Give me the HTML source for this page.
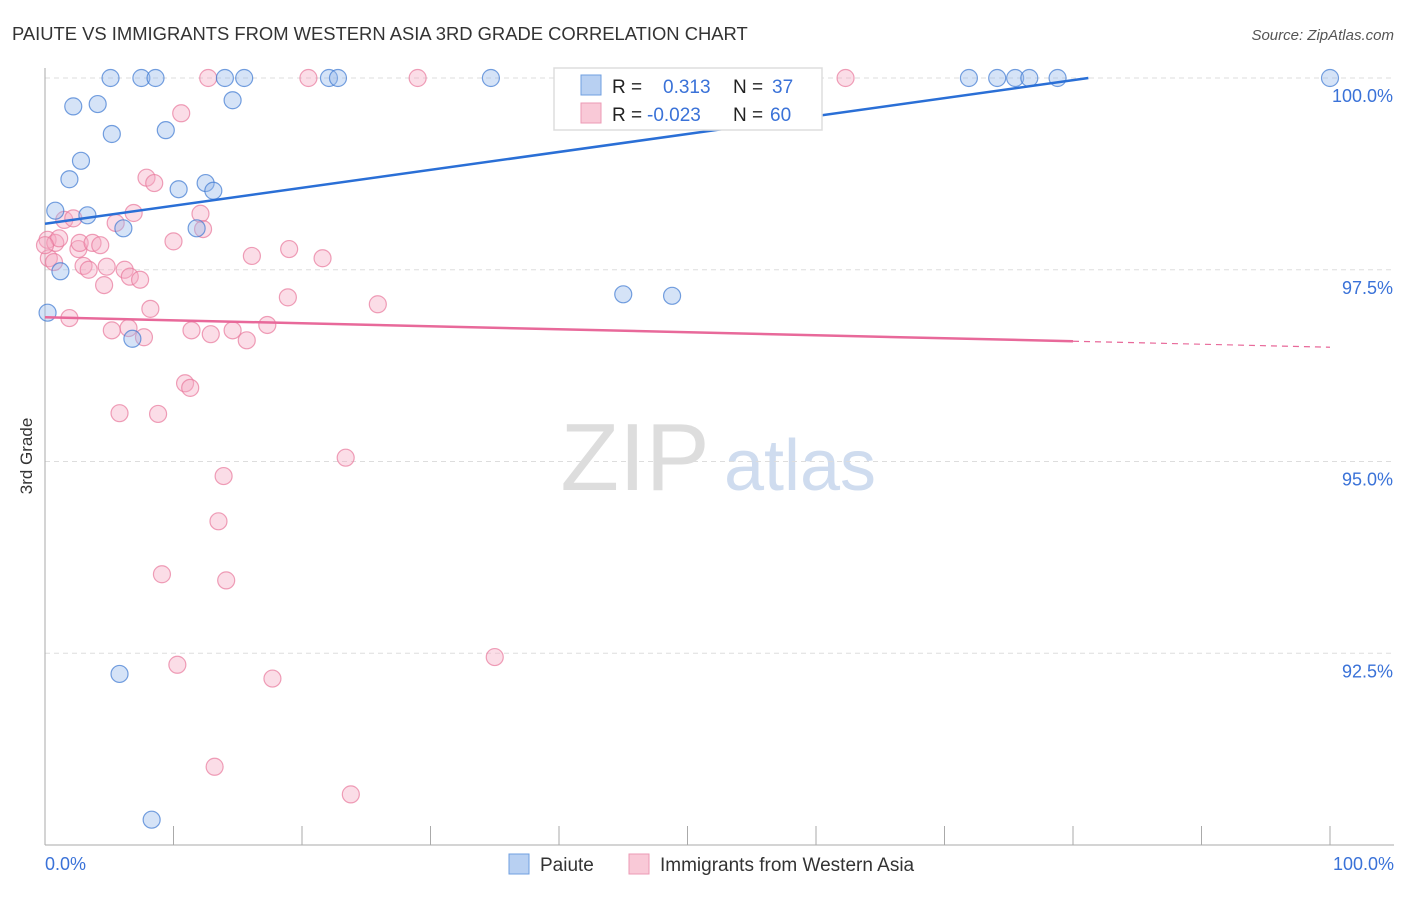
<!DOCTYPE html>
<html><head><meta charset="utf-8">
<style>
body{margin:0;background:#fff;font-family:"Liberation Sans",sans-serif;}
svg text{font-family:"Liberation Sans",sans-serif;}
</style></head>
<body>
<svg id="chart" width="1406" height="892" viewBox="0 0 1406 892">
<text x="12" y="40" font-size="18.4" fill="#333">PAIUTE VS IMMIGRANTS FROM WESTERN ASIA 3RD GRADE CORRELATION CHART</text>
<text x="1394" y="40" font-size="15" fill="#555" font-style="italic" text-anchor="end">Source: ZipAtlas.com</text>
<text x="32" y="456" font-size="17" fill="#333" text-anchor="middle" transform="rotate(-90 32 456)">3rd Grade</text>
<g>
<text x="635" y="490" font-size="96" fill="#ddd" font-family="Liberation Serif" text-anchor="middle">ZIP</text>
<text x="800" y="490" font-size="72" fill="#cfdcef" text-anchor="middle">atlas</text>
</g>
<g id="grid"></g>
<g id="axes"></g>
<g id="points"></g>
<g id="trends"></g>
<g>
<rect x="554" y="68" width="268" height="62" fill="#fff" stroke="#ddd" stroke-width="1.5"/>
<rect x="581" y="75" width="20" height="20" fill="#b8d0f2" stroke="#6f9fe0"/>
<text x="612" y="93" font-size="19" fill="#222">R =</text>
<text x="663" y="93" font-size="19" fill="#3a72d8">0.313</text>
<text x="733" y="93" font-size="19" fill="#222">N =</text>
<text x="772" y="93" font-size="19" fill="#3a72d8">37</text>
<rect x="581" y="103" width="20" height="20" fill="#f9c9d7" stroke="#ec9ab4"/>
<text x="612" y="121" font-size="19" fill="#222">R =</text>
<text x="647" y="121" font-size="19" fill="#3a72d8">-0.023</text>
<text x="733" y="121" font-size="19" fill="#222">N =</text>
<text x="770" y="121" font-size="19" fill="#3a72d8">60</text>
</g>
<g>
<rect x="509" y="854" width="20" height="20" fill="#b8d0f2" stroke="#6f9fe0"/>
<text x="540" y="871" font-size="19" fill="#333">Paiute</text>
<rect x="629" y="854" width="20" height="20" fill="#f9c9d7" stroke="#ec9ab4"/>
<text x="660" y="871" font-size="19" fill="#333">Immigrants from Western Asia</text>
</g>
</svg>
<script>
const yTicks=[100,97.5,95,92.5];
const yTickLabels=["100.0%","97.5%","95.0%","92.5%"];
const xTickLabels=["0.0%","100.0%"];
const blueX=[5.1,7.5,8.6,14.0,15.5,22.1,22.8,34.7,45.5,45.8,71.9,74.1,75.5,76.6,78.8,100,2.2,4.1,14.6,5.2,9.4,2.8,1.9,10.4,12.5,13.1,0.8,3.3,6.1,11.8,1.2,45.0,48.8,0.2,6.8,5.8,8.3];
const blueY=[100,100,100,100,100,100,100,100,100,100,100,100,100,100,100,100,99.63,99.66,99.71,99.27,99.32,98.92,98.68,98.55,98.63,98.53,98.27,98.21,98.04,98.04,97.48,97.18,97.16,96.94,96.60,92.23,90.33];
const pinkX=[12.7,20.5,29.0,62.3,10.6,7.9,8.5,1.5,2.2,12.1,6.9,5.5,12.3,0.2,0.8,1.1,2.6,2.7,3.7,4.3,0.3,0.7,3.0,3.4,4.8,6.2,6.6,7.4,4.6,10.0,16.1,19.0,21.6,18.9,25.9,8.2,1.9,5.2,6.5,7.7,11.4,12.9,14.6,15.7,17.3,10.9,11.3,5.8,8.8,13.9,23.4,13.5,9.1,14.1,10.3,17.7,35.0,13.2,23.8,0];
const pinkY=[100,100,100,100,99.54,98.70,98.63,98.15,98.17,98.23,98.24,98.11,98.03,97.89,97.85,97.91,97.77,97.85,97.85,97.82,97.65,97.60,97.55,97.50,97.54,97.50,97.41,97.37,97.30,97.87,97.68,97.77,97.65,97.14,97.05,96.99,96.87,96.71,96.74,96.62,96.71,96.66,96.71,96.58,96.78,96.02,95.96,95.63,95.62,94.81,95.05,94.22,93.53,93.45,92.35,92.17,92.45,91.02,90.66,97.82];
const blueTrend=[98.10,100.44];
const pinkTrend=[96.88,96.49];
const sx=v=>45+v*12.85;
const sy=v=>78+(100-v)*76.7;
const NS="http://www.w3.org/2000/svg";
function mk(tag,attrs,parent){const e=document.createElementNS(NS,tag);for(const k in attrs)e.setAttribute(k,attrs[k]);parent.appendChild(e);return e;}
const grid=document.getElementById('grid'),axes=document.getElementById('axes'),pts=document.getElementById('points'),tr=document.getElementById('trends');
yTicks.forEach((t,i)=>{
  const l=mk('line',{x1:45,x2:1394,y1:sy(t),y2:sy(t),stroke:'#ddd','stroke-dasharray':'5,4'},grid);
  
  
  const tx=mk('text',{x:1393,y:sy(t)+24,'font-size':18,fill:'#3a72d8','text-anchor':'end'},axes);
  tx.textContent=yTickLabels[i];
  
  
});
const ax=mk('line',{x1:45,x2:45,y1:68,y2:845,stroke:'#aaa'},axes);


const bx=mk('line',{x1:45,x2:1394,y1:845,y2:845,stroke:'#aaa'},axes);


for(let i=0;i<=10;i++){const t=mk('line',{x1:sx(i*10),x2:sx(i*10),y1:826,y2:845,stroke:'#aaa'},axes);

}
[[0,'start',45],[100,'end',1394]].forEach((a,i)=>{const t=mk('text',{x:a[2],y:870,'font-size':18,fill:'#3a72d8','text-anchor':a[1]},axes);t.textContent=xTickLabels[i];

});
function dots(X,Y,fill,stroke,name){X.forEach((x,i)=>{const c=mk('circle',{cx:sx(x),cy:sy(Y[i]),r:8.5,fill:fill,stroke:stroke,'stroke-width':1.2},pts);

});}
dots(pinkX,pinkY,'rgba(246,170,195,0.4)','rgba(232,120,155,0.7)','western-asia-point');
dots(blueX,blueY,'rgba(150,185,235,0.4)','rgba(60,120,210,0.7)','paiute-point');
const bxEnd=(100-blueTrend[0])/(blueTrend[1]-blueTrend[0])*100;
const b=mk('line',{x1:sx(0),y1:sy(blueTrend[0]),x2:sx(bxEnd),y2:sy(100),stroke:'#2a6fd6','stroke-width':2.5},tr);


const pv=x=>pinkTrend[0]+(pinkTrend[1]-pinkTrend[0])*x/100;
const p=mk('line',{x1:sx(0),y1:sy(pv(0)),x2:sx(80),y2:sy(pv(80)),stroke:'#e8699a','stroke-width':2.5},tr);


const pd=mk('line',{x1:sx(80),y1:sy(pv(80)),x2:sx(100),y2:sy(pv(100)),stroke:'#e8699a','stroke-width':1.2,'stroke-dasharray':'6,5'},tr);


</script>
</body></html>
